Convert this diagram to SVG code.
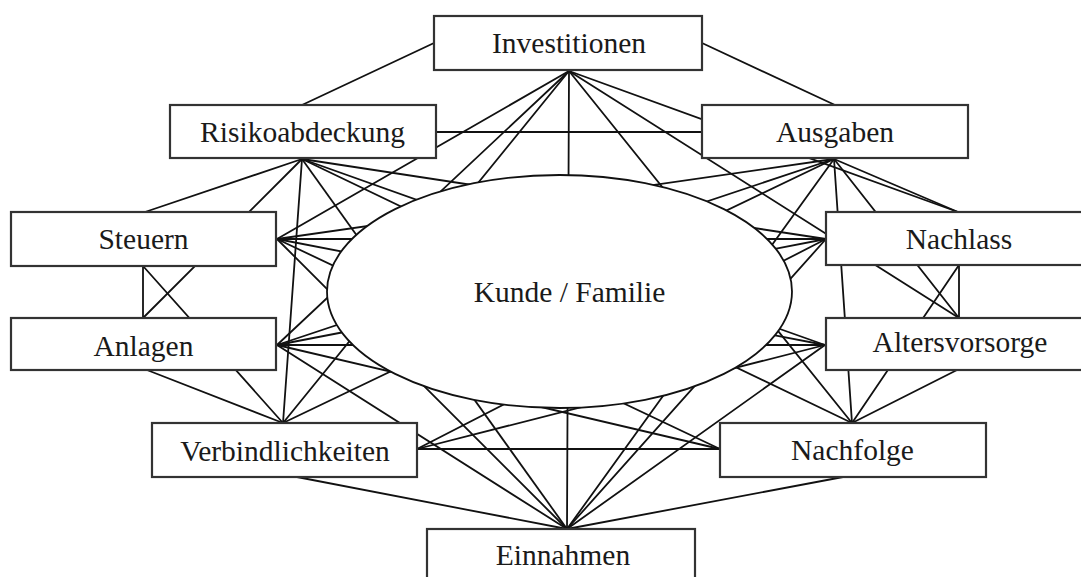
<svg xmlns="http://www.w3.org/2000/svg" width="1081" height="577" viewBox="0 0 1081 577">
<style>
.c line{stroke:#111;stroke-width:1.8;stroke-linecap:round}
.box{fill:#fff;stroke:#333;stroke-width:2.2}
.lbl{font-family:"Liberation Serif","Times New Roman",serif;font-size:29.5px;fill:#1a1a1a;text-anchor:middle}
</style>
<rect width="1081" height="577" fill="#fff"/>
<g id="connectors" class="c">
<line x1="434" y1="43" x2="302" y2="105"/>
<line x1="702" y1="43" x2="835" y2="105"/>
<line x1="436" y1="132" x2="702" y2="132"/>
<line x1="569" y1="71" x2="277" y2="239"/>
<line x1="569" y1="71" x2="277" y2="345"/>
<line x1="569" y1="71" x2="958" y2="212"/>
<line x1="569" y1="71" x2="959" y2="318"/>
<line x1="569" y1="71" x2="283" y2="423"/>
<line x1="569" y1="71" x2="852" y2="423"/>
<line x1="569" y1="71" x2="567" y2="529"/>
<line x1="302" y1="159" x2="145" y2="212"/>
<line x1="302" y1="159" x2="143" y2="318"/>
<line x1="302" y1="159" x2="283" y2="423"/>
<line x1="302" y1="159" x2="567" y2="529"/>
<line x1="302" y1="159" x2="852" y2="423"/>
<line x1="302" y1="159" x2="825" y2="345"/>
<line x1="302" y1="159" x2="826" y2="239"/>
<line x1="834" y1="159" x2="958" y2="212"/>
<line x1="834" y1="159" x2="959" y2="318"/>
<line x1="834" y1="159" x2="852" y2="423"/>
<line x1="834" y1="159" x2="567" y2="529"/>
<line x1="834" y1="159" x2="283" y2="423"/>
<line x1="834" y1="159" x2="277" y2="345"/>
<line x1="834" y1="159" x2="277" y2="239"/>
<line x1="143" y1="266" x2="143" y2="318"/>
<line x1="143" y1="266" x2="283" y2="423"/>
<line x1="277" y1="239" x2="826" y2="239"/>
<line x1="277" y1="239" x2="825" y2="345"/>
<line x1="277" y1="239" x2="720" y2="449"/>
<line x1="277" y1="239" x2="567" y2="529"/>
<line x1="959" y1="265" x2="959" y2="318"/>
<line x1="959" y1="265" x2="852" y2="423"/>
<line x1="826" y1="239" x2="277" y2="345"/>
<line x1="826" y1="239" x2="417" y2="449"/>
<line x1="826" y1="239" x2="567" y2="529"/>
<line x1="147" y1="370" x2="283" y2="423"/>
<line x1="277" y1="345" x2="825" y2="345"/>
<line x1="277" y1="345" x2="720" y2="449"/>
<line x1="277" y1="345" x2="567" y2="529"/>
<line x1="957" y1="370" x2="852" y2="423"/>
<line x1="825" y1="345" x2="417" y2="449"/>
<line x1="825" y1="345" x2="567" y2="529"/>
<line x1="417" y1="449" x2="720" y2="449"/>
<line x1="297" y1="477" x2="567" y2="529"/>
<line x1="843" y1="477" x2="567" y2="529"/>
</g>
<g id="kunde">
<ellipse cx="559.5" cy="291.5" rx="232.5" ry="116.5" fill="#fff" stroke="#111" stroke-width="1.8"/>
<text class="lbl" x="569.5" y="302">Kunde / Familie</text>
</g>
<g id="investitionen"><rect class="box" x="434" y="16" width="268" height="54"/><text class="lbl" x="569" y="53">Investitionen</text></g>
<g id="risikoabdeckung"><rect class="box" x="170" y="105" width="266" height="53"/><text class="lbl" x="302.5" y="142">Risikoabdeckung</text></g>
<g id="ausgaben"><rect class="box" x="702" y="105" width="266" height="53"/><text class="lbl" x="835" y="142">Ausgaben</text></g>
<g id="steuern"><rect class="box" x="11" y="212" width="265" height="54"/><text class="lbl" x="143.5" y="249">Steuern</text></g>
<g id="nachlass"><rect class="box" x="826" y="212" width="266" height="53"/><text class="lbl" x="959" y="248.5">Nachlass</text></g>
<g id="anlagen"><rect class="box" x="11" y="318" width="265" height="52"/><text class="lbl" x="143.5" y="355.5">Anlagen</text></g>
<g id="altersvorsorge"><rect class="box" x="826" y="318" width="266" height="52"/><text class="lbl" x="960" y="351.5">Altersvorsorge</text></g>
<g id="verbindlichkeiten"><rect class="box" x="152" y="423" width="265" height="54"/><text class="lbl" x="285" y="460.5">Verbindlichkeiten</text></g>
<g id="nachfolge"><rect class="box" x="720" y="423" width="266" height="54"/><text class="lbl" x="852.5" y="460">Nachfolge</text></g>
<g id="einnahmen"><rect class="box" x="427" y="529" width="268" height="56"/><text class="lbl" x="563" y="565">Einnahmen</text></g>
</svg>
